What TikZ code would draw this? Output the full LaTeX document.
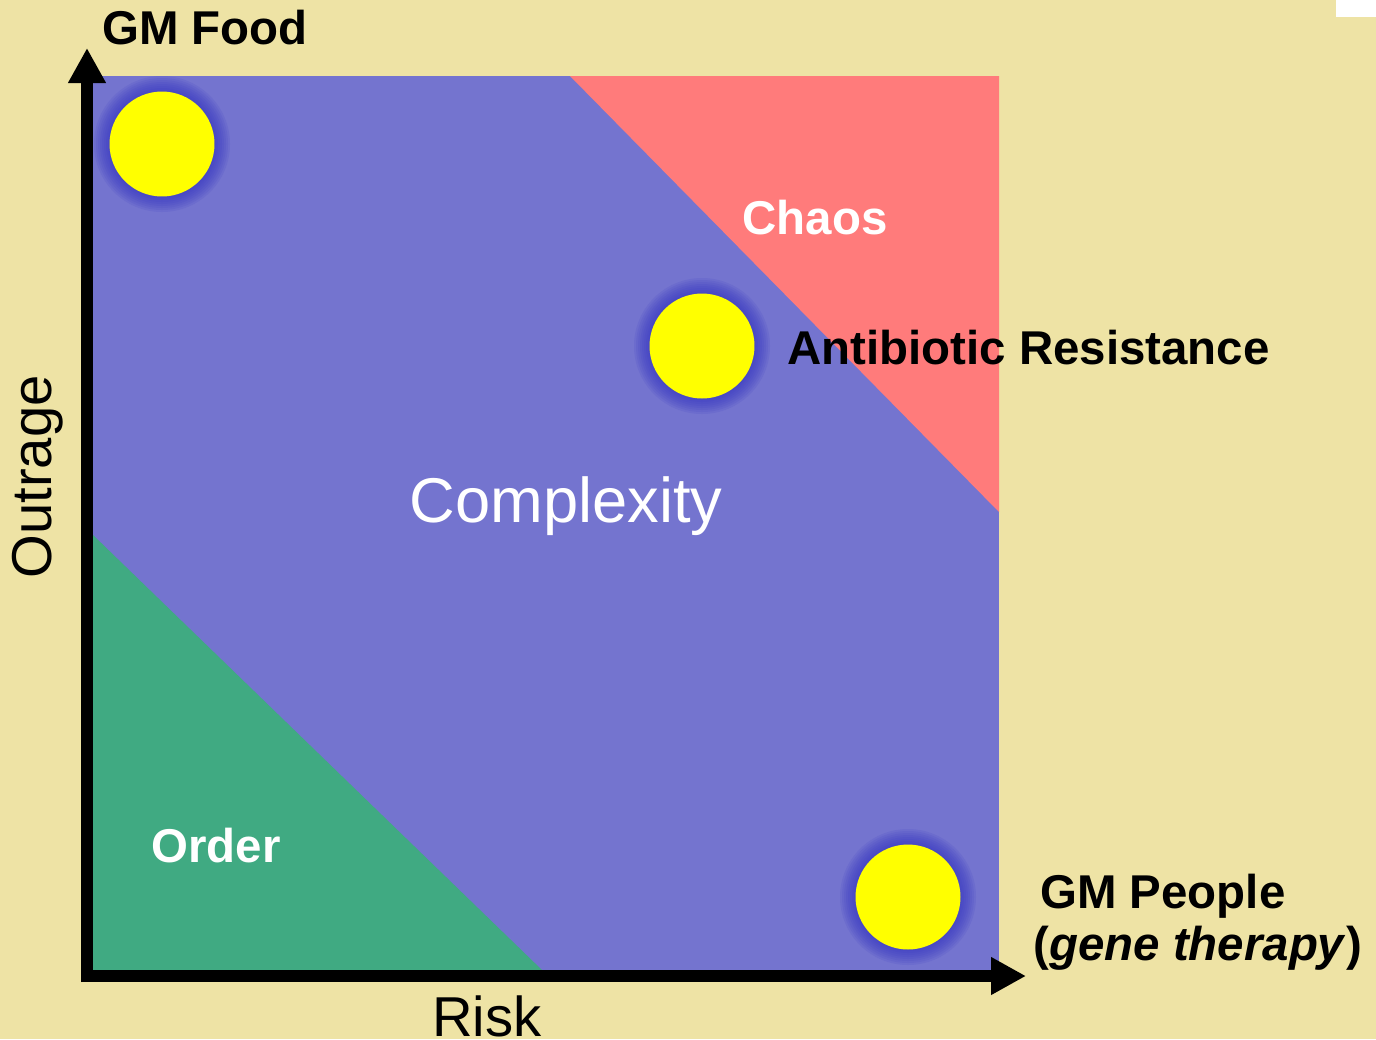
\documentclass[tikz,border=0pt]{standalone}
\usepackage{fontspec}
\setmainfont{Liberation Sans}
\usepackage{xcolor}
\usetikzlibrary{arrows.meta}
\definecolor{slidebg}{RGB}{238,227,165}
\definecolor{zonecomplex}{RGB}{116,116,207}
\definecolor{zonechaos}{RGB}{255,123,123}
\definecolor{zoneorder}{RGB}{64,170,130}
\definecolor{sunglow}{RGB}{55,55,195}
\definecolor{sunfill}{RGB}{255,255,0}
\tikzset{
  px/.style={x=0.02cm, y=-0.02cm},
  axis/.style={line width=6.8pt, -{Triangle[length=0.7cm, width=0.71cm]}},
  sun/.style={circle, fill=sunfill, minimum size=2.1cm, inner sep=0pt},
  zone label/.style={text=white, inner sep=0pt,
                     font=\bfseries\fontsize{27}{30}\selectfont},
  case label/.style={text=black, inner sep=0pt,
                     font=\bfseries\fontsize{27}{29.5}\selectfont},
  axis label/.style={text=black, inner sep=0pt,
                     font=\fontsize{32}{36}\selectfont},
}

\begin{document}
\begin{tikzpicture}[px]
\useasboundingbox (0,0) rectangle (1376,1039);
\fill[slidebg] (0,0) rectangle (1376,1039);
\fill[white] (1336,0) rectangle (1376,17);
% the three regions of the plane
\fill[zonecomplex] (93,76) rectangle (999,970);
\fill[zonechaos] (570,76) -- (999,76) -- (999,512) -- cycle;
\fill[zoneorder] (93,535) -- (93,970) -- (542,970) -- cycle;
\node[zone label] (chaos) at (815,218) {Chaos};
\node[zone label] (order) at (216,846) {Order};
\node[text=white, inner sep=0pt, font=\fontsize{36}{40}\selectfont]
  (complexity) at (566,506) {Complexity};
% example cases, each a yellow sun with a soft blue halo
\foreach \name/\x/\y in {food/162/144, resist/702/346, people/908/897}{
  \foreach \r in {68,66,...,52}
    \fill[sunglow, opacity=0.13] (\x,\y) circle (\r);
  \node[sun] (\name) at (\x,\y) {};
}
\node[case label] (food label) at (205,28) {GM Food};
\node[case label, anchor=west] (resist label) at (787,348)
  {Antibiotic Resistance};
\node[case label, anchor=west, align=left] (people label) at (1033,922)
  {\hspace{4pt}GM People\\(\textit{gene therapy})};
% axes
\coordinate (ybase) at (87,982);
\coordinate (ytip) at (87,48);
\coordinate (xbase) at (81,976);
\coordinate (xtip) at (1026,976);
\draw[axis] (ybase) -- (ytip);
\draw[axis] (xbase) -- (xtip);
\node[axis label, rotate=90] (outrage) at (38,477) {Outrage};
\node[axis label] (risk) at (487,1016) {Risk};
\end{tikzpicture}
\end{document}
